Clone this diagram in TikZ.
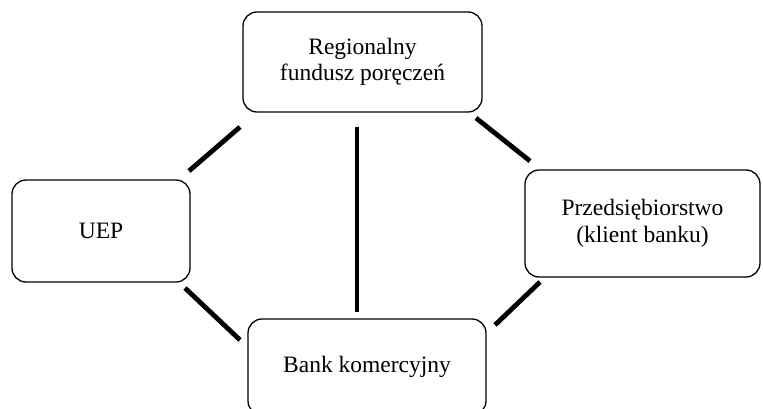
\documentclass[tikz,border=0pt]{standalone}
\usepackage{fontspec}
\setmainfont{Liberation Serif}
\begin{document}
\begin{tikzpicture}[x=1pt,y=-1pt,
  box/.style={draw=black,line width=1.3pt,rounded corners=14pt,align=center,
    inner sep=0pt,font=\fontsize{23.5}{26.5}\selectfont},
  link/.style={line width=4.8pt,black}]
\useasboundingbox (0,0) rectangle (763,409);
\clip (0,0) rectangle (763,409);
\node[box,minimum width=239pt,minimum height=100pt] (rfp) at (362.5,62) {Regionalny\\fundusz poręczeń};
\node[box,minimum width=178pt,minimum height=102pt] (uep) at (101,231) {UEP};
\node[box,minimum width=235pt,minimum height=107pt] (prz) at (642.5,223.5) {Przedsiębiorstwo\\(klient banku)};
\node[box,minimum width=238pt,minimum height=96pt] (bank) at (367,367) {Bank komercyjny};
\coordinate (a1) at (240,127); \coordinate (a2) at (189,171);
\coordinate (b1) at (476,118); \coordinate (b2) at (530,161);
\coordinate (c1) at (357,127); \coordinate (c2) at (357,312);
\coordinate (d1) at (185,288); \coordinate (d2) at (240,340);
\coordinate (e1) at (540,282); \coordinate (e2) at (495,325);
\draw[link] (a1) -- (a2);
\draw[link] (b1) -- (b2);
\draw[link] (c1) -- (c2);
\draw[link] (d1) -- (d2);
\draw[link] (e1) -- (e2);
\end{tikzpicture}
\end{document}
